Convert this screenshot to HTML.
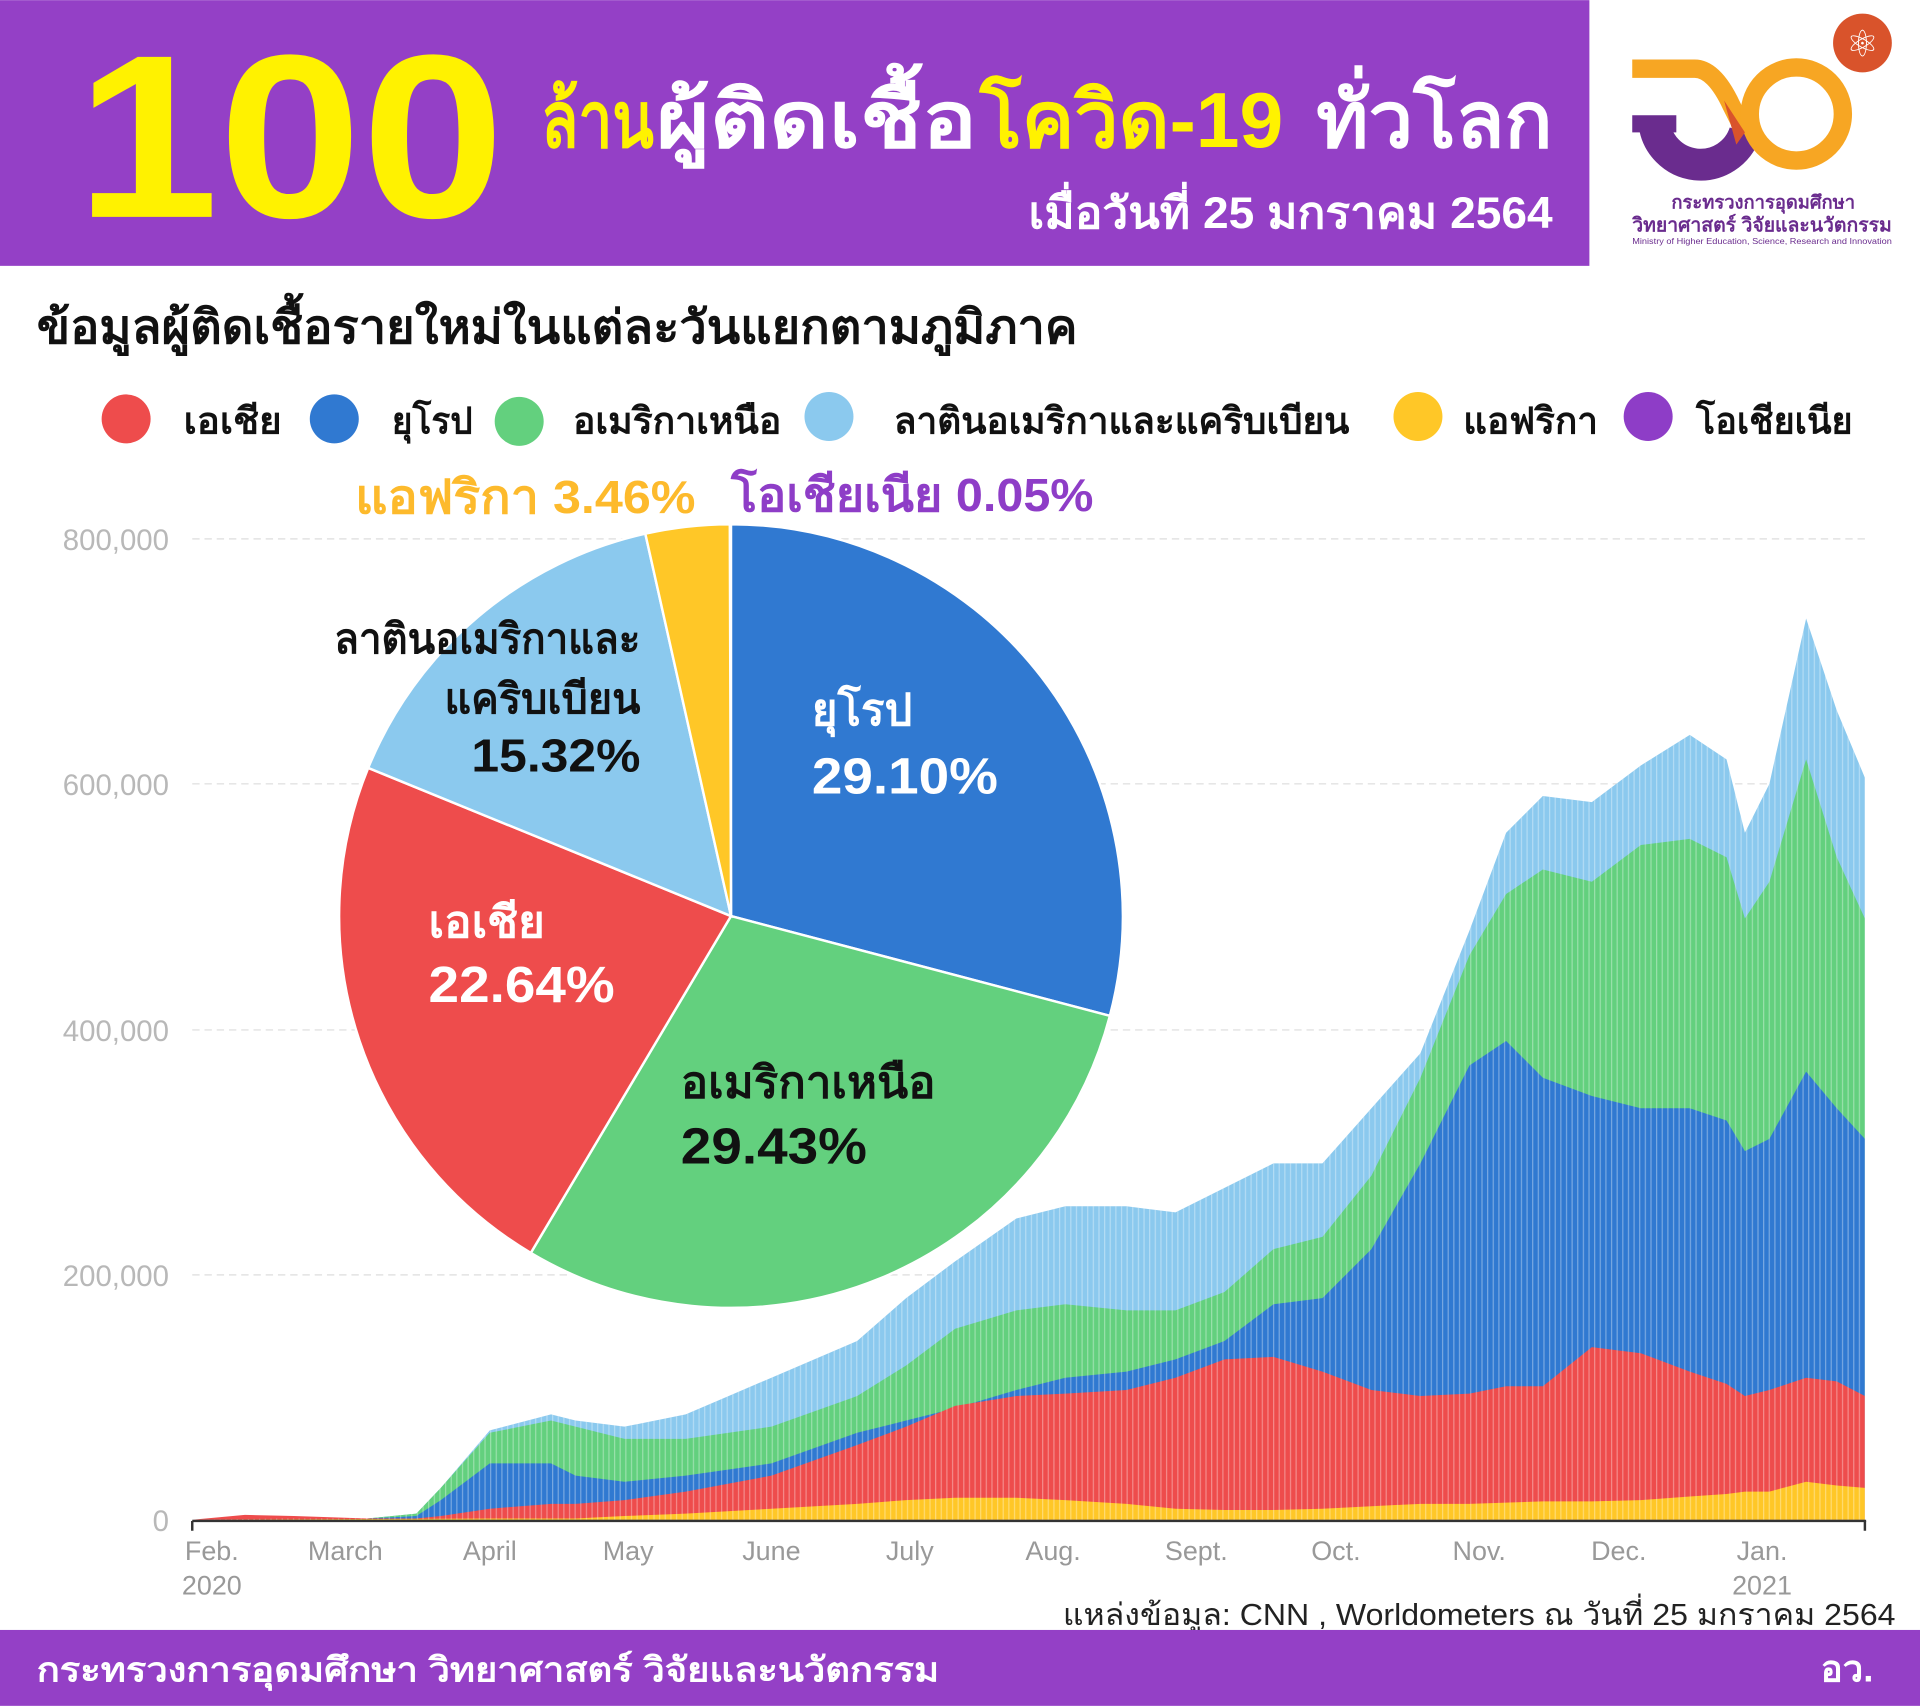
<!DOCTYPE html>
<html><head><meta charset="utf-8"><style>
html,body{margin:0;padding:0;background:#fff;}
svg{display:block;}
text{font-family:"Liberation Sans","DejaVu Sans","Noto Sans CJK SC",sans-serif;}
</style></head><body>
<svg width="1920" height="1706" viewBox="0 0 1568 1393" xmlns="http://www.w3.org/2000/svg">
<defs>
<pattern id="bars" width="4.6" height="10" patternUnits="userSpaceOnUse">
<rect x="0" y="0" width="1" height="10" fill="#fff" opacity="0.35"/>
</pattern>
</defs>
<rect width="1568" height="1393" fill="#fff"/>
<!-- header -->
<rect x="0" y="0" width="1298" height="217" fill="#9440C6"/>
<text x="62" y="177" font-size="190" font-weight="bold" fill="#FFF200" textLength="350" lengthAdjust="spacingAndGlyphs">100</text>
<text x="442" y="120" font-size="64" font-weight="bold" fill="#FFF200" textLength="92" lengthAdjust="spacingAndGlyphs">ล้าน</text>
<text x="536" y="120" font-size="64" font-weight="bold" fill="#fff" textLength="262" lengthAdjust="spacingAndGlyphs">ผู้ติดเชื้อ</text>
<text x="800" y="120" font-size="64" font-weight="bold" fill="#FFF200" textLength="248" lengthAdjust="spacingAndGlyphs">โควิด-19</text>
<text x="1075" y="120" font-size="64" font-weight="bold" fill="#fff" textLength="193" lengthAdjust="spacingAndGlyphs">ทั่วโลก</text>
<text x="840" y="186" font-size="36" font-weight="bold" fill="#fff" textLength="428" lengthAdjust="spacingAndGlyphs">เมื่อวันที่ 25 มกราคม 2564</text>
<!-- logo -->
<circle cx="1521" cy="35" r="24" fill="#D9532B"/>
<text x="1521" y="46" font-size="30" fill="#fff" text-anchor="middle">⚛</text>
<rect x="1333" y="94" width="36" height="14" fill="#6A2C8E"/>
<path d="M1351,100 A38,38 0 0 0 1425,108" fill="none" stroke="#6A2C8E" stroke-width="26"/>
<path d="M1333,56 L1384,56 Q1400,56 1414,86 L1425,108" fill="none" stroke="#F7A623" stroke-width="15"/>
<circle cx="1467" cy="93" r="38" fill="none" stroke="#F7A623" stroke-width="15"/>
<path d="M1408,82 L1425,108 L1418,118 Z" fill="#D9532B"/>
<text x="1440" y="170" font-size="15" font-weight="bold" fill="#6A2C8E" text-anchor="middle" textLength="150" lengthAdjust="spacingAndGlyphs">กระทรวงการอุดมศึกษา</text>
<text x="1439" y="189" font-size="16" font-weight="bold" fill="#6A2C8E" text-anchor="middle" textLength="212" lengthAdjust="spacingAndGlyphs">วิทยาศาสตร์ วิจัยและนวัตกรรม</text>
<text x="1439" y="199" font-size="7" fill="#6A2C8E" text-anchor="middle" textLength="212" lengthAdjust="spacingAndGlyphs">Ministry of Higher Education, Science, Research and Innovation</text>
<!-- section title -->
<text x="30" y="280" font-size="38" font-weight="bold" fill="#111" textLength="850" lengthAdjust="spacingAndGlyphs">ข้อมูลผู้ติดเชื้อรายใหม่ในแต่ละวันแยกตามภูมิภาค</text>
<!-- legend -->
<g font-size="30" font-weight="bold" fill="#111">
<circle cx="103" cy="342" r="20" fill="#EE4C4C"/><text x="150" y="354" textLength="80" lengthAdjust="spacingAndGlyphs">เอเชีย</text>
<circle cx="273" cy="342" r="20" fill="#3079D1"/><text x="320" y="354" textLength="66" lengthAdjust="spacingAndGlyphs">ยุโรป</text>
<circle cx="424" cy="344" r="20" fill="#63D07E"/><text x="468" y="354" textLength="170" lengthAdjust="spacingAndGlyphs">อเมริกาเหนือ</text>
<circle cx="677" cy="340" r="20" fill="#8BC9EE"/><text x="730" y="354" textLength="372" lengthAdjust="spacingAndGlyphs">ลาตินอเมริกาและแคริบเบียน</text>
<circle cx="1158" cy="340" r="20" fill="#FFC727"/><text x="1195" y="354" textLength="110" lengthAdjust="spacingAndGlyphs">แอฟริกา</text>
<circle cx="1346" cy="340" r="20" fill="#8E3DC7"/><text x="1385" y="354" textLength="128" lengthAdjust="spacingAndGlyphs">โอเชียเนีย</text>
</g>
<!-- grid -->
<g stroke="#e2e2e2" stroke-width="1.2" stroke-dasharray="6,4">
<line x1="157" y1="440" x2="1523" y2="440"/>
<line x1="157" y1="640" x2="1523" y2="640"/>
<line x1="157" y1="841" x2="1523" y2="841"/>
<line x1="157" y1="1041" x2="1523" y2="1041"/>
</g>
<g font-size="24" fill="#b8b8b8" text-anchor="end">
<text x="138" y="449">800,000</text>
<text x="138" y="649">600,000</text>
<text x="138" y="850">400,000</text>
<text x="138" y="1050">200,000</text>
<text x="138" y="1250">0</text>
</g>
<!-- stacked areas -->
<polygon fill="#8BC9EE" points="157,1241 230,1240 300,1240 340,1236 360,1215 400,1168 450,1155 470,1160 510,1165 560,1155 630,1125 700,1095 740,1060 780,1030 830,995 870,985 920,985 960,990 1000,970 1040,950 1080,950 1120,905 1160,860 1200,760 1230,680 1260,650 1300,655 1340,625 1380,600 1410,620 1425,680 1445,640 1475,505 1500,580 1523,635 1523,1241"/>
<polygon fill="#63D07E" points="157,1241 230,1240 300,1240 340,1236 360,1215 400,1170 450,1160 470,1165 510,1175 560,1175 630,1165 700,1140 740,1115 780,1085 830,1070 870,1065 920,1070 960,1070 1000,1055 1040,1020 1080,1010 1120,960 1160,880 1200,780 1230,730 1260,710 1300,720 1340,690 1380,685 1410,700 1425,750 1445,720 1475,620 1500,700 1523,750 1523,1241"/>
<polygon fill="#3079D1" points="157,1241 230,1240 300,1240 340,1238 360,1225 400,1195 450,1195 470,1205 510,1210 560,1205 630,1195 700,1170 740,1160 780,1150 830,1135 870,1125 920,1120 960,1110 1000,1095 1040,1065 1080,1060 1120,1020 1160,950 1200,870 1230,850 1260,880 1300,895 1340,905 1380,905 1410,915 1425,940 1445,930 1475,875 1500,905 1523,930 1523,1241"/>
<polygon fill="#EE4C4C" points="157,1241 200,1237 240,1238 300,1240 340,1240 360,1238 400,1232 450,1228 470,1228 510,1225 560,1218 630,1205 700,1180 740,1165 780,1148 830,1140 870,1138 920,1135 960,1125 1000,1110 1040,1108 1080,1120 1120,1135 1160,1140 1200,1138 1230,1132 1260,1132 1300,1100 1340,1105 1380,1120 1410,1130 1425,1140 1445,1135 1475,1125 1500,1128 1523,1140 1523,1241"/>
<polygon fill="#FFC727" points="157,1241 400,1240 450,1240 470,1240 510,1238 560,1236 630,1232 700,1228 740,1225 780,1223 830,1223 870,1225 920,1228 960,1232 1000,1233 1040,1233 1080,1232 1120,1230 1160,1228 1200,1228 1230,1227 1260,1226 1300,1226 1340,1225 1380,1222 1410,1220 1425,1218 1445,1218 1475,1210 1500,1213 1523,1215 1523,1241"/>
<polygon fill="url(#bars)" points="157,1241 230,1240 300,1240 340,1236 360,1215 400,1168 450,1155 470,1160 510,1165 560,1155 630,1125 700,1095 740,1060 780,1030 830,995 870,985 920,985 960,990 1000,970 1040,950 1080,950 1120,905 1160,860 1200,760 1230,680 1260,650 1300,655 1340,625 1380,600 1410,620 1425,680 1445,640 1475,505 1500,580 1523,635 1523,1241"/>
<!-- x axis -->
<line x1="157" y1="1242" x2="1524" y2="1242" stroke="#333" stroke-width="2"/>
<g stroke="#333" stroke-width="2">
<line x1="157" y1="1242" x2="157" y2="1250"/><line x1="1523" y1="1242" x2="1523" y2="1250"/>
</g>
<g font-size="22" fill="#999" text-anchor="middle">
<text x="173" y="1274">Feb.</text><text x="173" y="1302">2020</text>
<text x="282" y="1274">March</text><text x="400" y="1274">April</text><text x="513" y="1274">May</text>
<text x="630" y="1274">June</text><text x="743" y="1274">July</text><text x="860" y="1274">Aug.</text>
<text x="977" y="1274">Sept.</text><text x="1091" y="1274">Oct.</text><text x="1208" y="1274">Nov.</text>
<text x="1322" y="1274">Dec.</text><text x="1439" y="1274">Jan.</text><text x="1439" y="1302">2021</text>
</g>
<!-- pie -->
<g stroke="#fff" stroke-width="2">
<path d="M597,748 L597,428 A320,320 0 0 1 906.4,829.5 Z" fill="#3079D1"/>
<path d="M597,748 L906.4,829.5 A320,320 0 0 1 433.5,1023.1 Z" fill="#63D07E"/>
<path d="M597,748 L433.5,1023.1 A320,320 0 0 1 300.7,627 Z" fill="#EE4C4C"/>
<path d="M597,748 L300.7,627 A320,320 0 0 1 527,435.7 Z" fill="#8BC9EE"/>
<path d="M597,748 L527,435.7 A320,320 0 0 1 596,428 Z" fill="#FFC727"/>
</g>
<g font-weight="bold">
<text x="663" y="592" font-size="36" fill="#fff" textLength="82" lengthAdjust="spacingAndGlyphs">ยุโรป</text>
<text x="663" y="648" font-size="42" fill="#fff" textLength="152" lengthAdjust="spacingAndGlyphs">29.10%</text>
<text x="350" y="765" font-size="36" fill="#fff" textLength="95" lengthAdjust="spacingAndGlyphs">เอเชีย</text>
<text x="350" y="818" font-size="42" fill="#fff" textLength="152" lengthAdjust="spacingAndGlyphs">22.64%</text>
<text x="556" y="896" font-size="36" fill="#111" textLength="208" lengthAdjust="spacingAndGlyphs">อเมริกาเหนือ</text>
<text x="556" y="950" font-size="42" fill="#111" textLength="152" lengthAdjust="spacingAndGlyphs">29.43%</text>
<text x="523" y="533" font-size="34" fill="#111" text-anchor="end" textLength="250" lengthAdjust="spacingAndGlyphs">ลาตินอเมริกาและ</text>
<text x="523" y="582" font-size="34" fill="#111" text-anchor="end" textLength="160" lengthAdjust="spacingAndGlyphs">แคริบเบียน</text>
<text x="523" y="630" font-size="38" fill="#111" text-anchor="end" textLength="138" lengthAdjust="spacingAndGlyphs">15.32%</text>
<text x="290" y="419" font-size="38" fill="#FDBA2C" textLength="278" lengthAdjust="spacingAndGlyphs">แอฟริกา 3.46%</text>
<text x="597" y="417" font-size="38" fill="#8E3DC7" textLength="296" lengthAdjust="spacingAndGlyphs">โอเชียเนีย 0.05%</text>
</g>
<!-- source -->
<text x="1548" y="1327" font-size="25" fill="#222" text-anchor="end" textLength="680" lengthAdjust="spacingAndGlyphs">แหล่งข้อมูล: CNN , Worldometers ณ วันที่ 25 มกราคม 2564</text>
<!-- footer -->
<rect x="0" y="1331" width="1568" height="62" fill="#9440C6"/>
<text x="30" y="1373" font-size="28" font-weight="bold" fill="#fff" textLength="737" lengthAdjust="spacingAndGlyphs">กระทรวงการอุดมศึกษา วิทยาศาสตร์ วิจัยและนวัตกรรม</text>
<text x="1530" y="1373" font-size="30" font-weight="bold" fill="#fff" text-anchor="end">อว.</text>
</svg>
</body></html>
